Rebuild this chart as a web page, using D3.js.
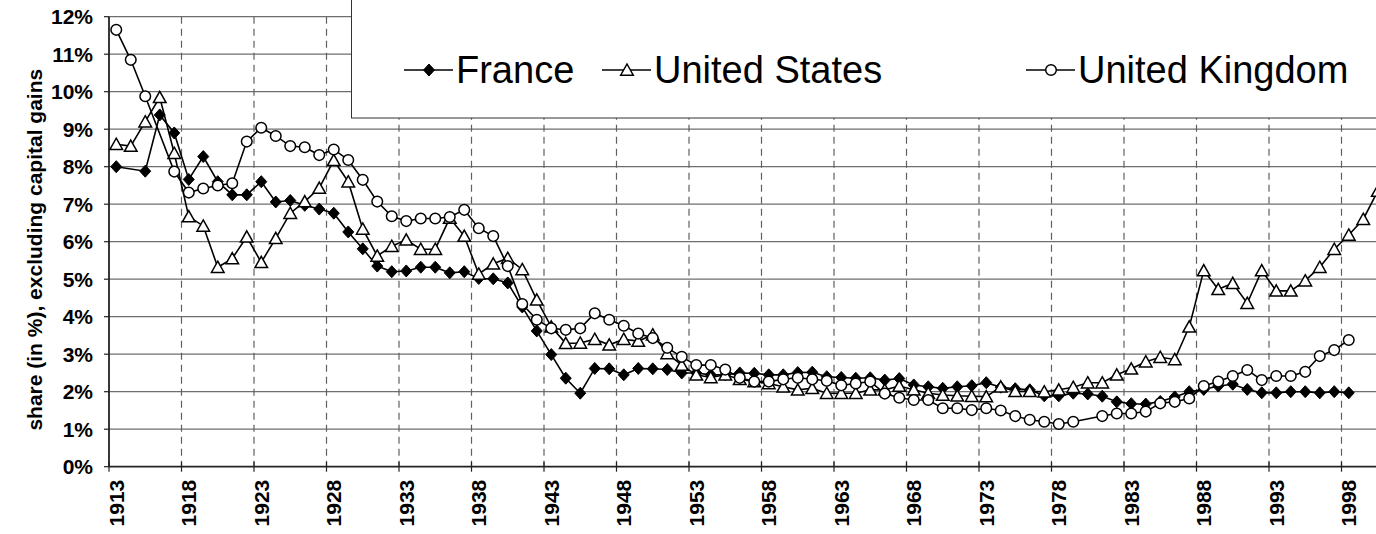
<!DOCTYPE html>
<html>
<head>
<meta charset="utf-8">
<script src="https://cdn.jsdelivr.net/npm/d3@7"></script>
<style>
  body { margin: 0; background: #fff; }
  svg { display: block; font-family: "Liberation Sans", Arial, sans-serif; }
</style>
</head>
<body>
<svg id="chart" width="1376" height="534"></svg>
<script>
// years on the category axis
const years = d3.range(1913, 2001);
const tickYears = d3.range(1913, 2000, 5);
const yTicks = d3.range(0, 13);

// top 0.1% income share, in %, null = no data
const france = [8.0, null, 7.88, 9.38, 8.9, 7.66, 8.27, 7.6, 7.25, 7.25,
  7.6, 7.06, 7.1, 6.97, 6.87, 6.76, 6.26, 5.81, 5.35, 5.2,
  5.22, 5.32, 5.32, 5.17, 5.2, 5.02, 5.01, 4.9, 4.26, 3.62,
  2.99, 2.36, 1.96, 2.62, 2.61, 2.45, 2.62, 2.61, 2.59, 2.5,
  2.5, 2.45, 2.45, 2.5, 2.49, 2.45, 2.45, 2.51, 2.52, 2.4,
  2.38, 2.36, 2.37, 2.31, 2.35, 2.18, 2.13, 2.09, 2.13, 2.16,
  2.24, 2.12, 2.08, 2.05, 1.89, 1.89, 1.96, 1.94, 1.88, 1.73,
  1.68, 1.67, 1.74, 1.86, 2.0, 2.06, 2.15, 2.2, 2.06, 1.97,
  1.97, 2.0, 2.0, 1.97, 2.0, 1.97];

const unitedStates = [8.6, 8.55, 9.2, 9.85, 8.36, 6.67, 6.42, 5.32, 5.55, 6.13,
  5.45, 6.09, 6.76, 7.07, 7.43, 8.17, 7.6, 6.34, 5.62, 5.88,
  6.05, 5.8, 5.8, 6.63, 6.15, 5.14, 5.41, 5.56, 5.26, 4.45,
  3.73, 3.29, 3.3, 3.4, 3.25, 3.4, 3.35, 3.52, 3.02, 2.71,
  2.45, 2.38, 2.45, 2.33, 2.27, 2.22, 2.13, 2.05, 2.09, 1.96,
  1.96, 1.96, 2.05, 2.05, 2.15, 2.05, 1.96, 1.91, 1.89, 1.88,
  1.87, 2.13, 2.01, 2.01, 2.0, 2.05, 2.12, 2.24, 2.24, 2.45,
  2.61, 2.8, 2.92, 2.86, 3.73, 5.23, 4.73, 4.89, 4.36, 5.23,
  4.69, 4.69, 4.96, 5.32, 5.8, 6.18, 6.6, 7.35];

const unitedKingdom = [11.65, 10.85, 9.88, null, 7.87, 7.31, 7.42, 7.5, 7.56, 8.67,
  9.04, 8.82, 8.55, 8.52, 8.31, 8.46, 8.18, 7.65, 7.07, 6.68,
  6.55, 6.62, 6.62, 6.66, 6.85, 6.36, 6.15, 5.35, 4.34, 3.92,
  3.69, 3.65, 3.69, 4.09, 3.92, 3.76, 3.55, 3.43, 3.17, 2.93,
  2.71, 2.71, 2.59, 2.37, 2.27, 2.27, 2.33, 2.37, 2.33, 2.29,
  2.17, 2.22, 2.27, 1.95, 1.84, 1.78, 1.78, 1.56, 1.56, 1.51,
  1.56, 1.5, 1.35, 1.25, 1.2, 1.14, 1.2, null, 1.35, 1.42,
  1.42, 1.47, 1.69, 1.73, 1.82, 2.15, 2.27, 2.42, 2.58, 2.31,
  2.42, 2.42, 2.53, 2.95, 3.11, 3.38];

const seriesNames = ["France", "United States", "United Kingdom"];
const seriesValues = [france, unitedStates, unitedKingdom];

const svg = d3.select("#chart");
const plotLeft = 109, plotTop = 16.7, plotBottom = 466.7;
const catW = 14.5;

const x = d3.scaleBand().domain(years).range([plotLeft, plotLeft + years.length * catW]).padding(0);
const y = d3.scaleLinear().domain([0, 12]).range([plotBottom, plotTop]);
const cx = (yr) => x(yr) + x.bandwidth() / 2;

// marker shapes
const markers = {
  "France": (g) => g.append("path").attr("d", "M0,-6L5.5,0L0,6L-5.5,0Z")
    .attr("fill", "#000").attr("stroke", "#000").attr("stroke-width", 1),
  "United States": (g) => g.append("path").attr("d", "M0,-6L6.3,5.2L-6.3,5.2Z")
    .attr("fill", "#fff").attr("stroke", "#000").attr("stroke-width", 1.5),
  "United Kingdom": (g) => g.append("circle").attr("r", 5.3)
    .attr("fill", "#fff").attr("stroke", "#000").attr("stroke-width", 1.5)
};

svg.append("clipPath").attr("id", "plot-clip")
  .append("rect").attr("x", plotLeft).attr("y", 0).attr("width", 1400).attr("height", plotBottom + 8);

// horizontal gridlines
svg.append("g")
  .selectAll("line")
  .data(yTicks.slice(1))
  .join("line")
  .attr("x1", plotLeft).attr("x2", 1376)
  .attr("y1", (d) => y(d)).attr("y2", (d) => y(d))
  .attr("stroke", "#6e6e6e").attr("stroke-width", 1.3);

// vertical dashed gridlines
svg.append("g")
  .selectAll("line")
  .data(tickYears.slice(1))
  .join("line")
  .attr("x1", (d) => x(d)).attr("x2", (d) => x(d))
  .attr("y1", plotTop).attr("y2", plotBottom)
  .attr("stroke", "#606060").attr("stroke-width", 1.2)
  .attr("stroke-dasharray", "7,5");

// axes
const xAxis = svg.append("g").attr("transform", `translate(0,${plotBottom})`);
xAxis.append("line").attr("x1", plotLeft).attr("x2", 1376).attr("stroke", "#222").attr("stroke-width", 1.8);
xAxis.selectAll("line.tick")
  .data(tickYears)
  .join("line")
  .attr("class", "tick")
  .attr("x1", (d) => x(d)).attr("x2", (d) => x(d))
  .attr("y1", -5).attr("y2", 5)
  .attr("stroke", "#222").attr("stroke-width", 1.2);
xAxis.selectAll("text")
  .data(tickYears)
  .join("text")
  .attr("transform", (d) => `translate(${cx(d) + 7.5},13) rotate(-90)`)
  .attr("text-anchor", "end")
  .attr("font-size", 21).attr("font-weight", "bold")
  .text((d) => d);

const yAxis = svg.append("g").attr("transform", `translate(${plotLeft},0)`);
yAxis.append("line").attr("y1", plotTop).attr("y2", plotBottom).attr("stroke", "#222").attr("stroke-width", 1.8);
yAxis.selectAll("line.tick")
  .data(yTicks)
  .join("line")
  .attr("class", "tick")
  .attr("x1", -5).attr("x2", 0)
  .attr("y1", (d) => y(d)).attr("y2", (d) => y(d))
  .attr("stroke", "#222").attr("stroke-width", 1.2);
yAxis.selectAll("text")
  .data(yTicks)
  .join("text")
  .attr("x", -16).attr("y", (d) => y(d) + 7.5)
  .attr("text-anchor", "end")
  .attr("font-size", 21).attr("font-weight", "bold")
  .text((d) => d + "%");

svg.append("text")
  .attr("transform", `translate(42,${(plotTop + plotBottom) / 2 + 8}) rotate(-90)`)
  .attr("text-anchor", "middle")
  .attr("font-size", 21).attr("font-weight", "bold")
  .text("share (in %), excluding capital gains");

// series
const line = d3.line().x((d) => cx(d.year)).y((d) => y(d.value));
const plot = svg.append("g").attr("clip-path", "url(#plot-clip)");

seriesNames.forEach((name, i) => {
  const pts = years
    .map((yr, j) => ({ year: yr, value: seriesValues[i][j] }))
    .filter((d) => d.value != null);
  const g = plot.append("g");
  g.append("path")
    .datum(pts)
    .attr("d", line)
    .attr("fill", "none").attr("stroke", "#000").attr("stroke-width", 1.6);
  g.selectAll("g.pt")
    .data(pts)
    .join("g")
    .attr("class", "pt")
    .attr("transform", (d) => `translate(${cx(d.year)},${y(d.value)})`)
    .each(function () { markers[name](d3.select(this)); });
});

// legend
const legend = svg.append("g");
legend.append("rect")
  .attr("x", 351.5).attr("y", -2).attr("width", 1100).attr("height", 120)
  .attr("fill", "#fff").attr("stroke", "#333").attr("stroke-width", 1);
const legendX = [404, 602, 1026];
seriesNames.forEach((name, i) => {
  const g = legend.append("g").attr("transform", `translate(${legendX[i]},70)`);
  g.append("line").attr("x1", 0).attr("x2", 49).attr("stroke", "#000").attr("stroke-width", 1.6);
  const m = g.append("g").attr("transform", "translate(25,0)");
  markers[name](m);
  g.append("text")
    .attr("x", 52).attr("y", 13)
    .attr("font-size", 38)
    .text(name);
});
</script>
</body>
</html>
